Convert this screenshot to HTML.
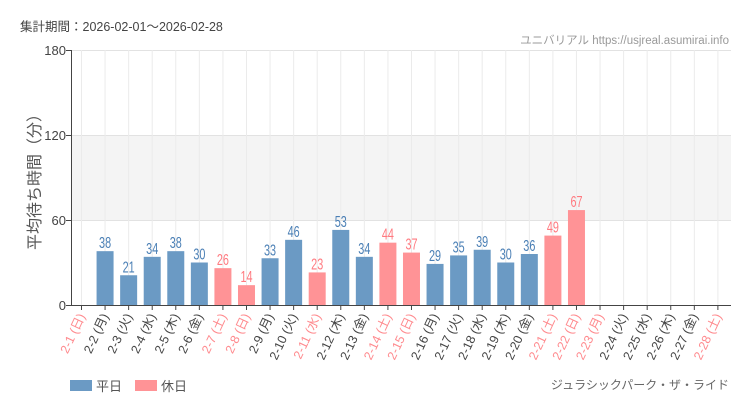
<!DOCTYPE html><html><head><meta charset="utf-8"><style>body{margin:0;background:#fff}svg{display:block;font-family:"Liberation Sans","Noto Sans CJK JP",sans-serif}</style></head><body>
<svg width="750" height="410" xmlns="http://www.w3.org/2000/svg" id="s">
<rect width="750" height="410" fill="#fff"/>
<text x="20" y="31" font-size="12.5" fill="#444">集計期間：2026-02-01～2026-02-28</text>
<text x="729" y="44" font-size="11.5" fill="#999" text-anchor="end">ユニバリアル  https://usjreal.asumirai.info</text>
<rect x="71" y="135" width="660" height="85" fill="#f4f4f4"/>
<g stroke="#e2e2e2" stroke-width="1">
<line x1="71" y1="50.5" x2="731" y2="50.5"/><line x1="71" y1="135.5" x2="731" y2="135.5"/><line x1="71" y1="220.5" x2="731" y2="220.5"/>
</g>
<g id="v"></g>
<g id="b"></g>
<line x1="71.5" y1="50" x2="71.5" y2="305" stroke="#444"/>
<line x1="71" y1="305.5" x2="731" y2="305.5" stroke="#444"/>
<g font-size="13" fill="#444" text-anchor="end">
<text x="66" y="55">180</text><text x="66" y="140">120</text><text x="66" y="225">60</text><text x="66" y="310">0</text></g>
<g stroke="#444"><line x1="66" y1="50.5" x2="71" y2="50.5"/><line x1="66" y1="135.5" x2="71" y2="135.5"/><line x1="66" y1="220.5" x2="71" y2="220.5"/><line x1="66" y1="305.5" x2="71" y2="305.5"/></g>
<text transform="translate(40,178) rotate(-90)" font-size="16" fill="#555" text-anchor="middle">平均待ち時間（分）</text>
<rect x="70" y="380" width="22" height="11" fill="#6b9ac4"/><text x="96" y="391" font-size="13" fill="#555">平日</text>
<rect x="135" y="380" width="22" height="11" fill="#ff9396"/><text x="161" y="391" font-size="13" fill="#555">休日</text>
<text x="729" y="389" font-size="12" fill="#666" text-anchor="end">ジュラシックパーク・ザ・ライド</text>
</svg>
<script>
var d=[null,38,21,34,38,30,26,14,33,46,23,53,34,44,37,29,35,39,30,36,49,67,null,null,null,null,null,null];
var w=["日","月","火","水","木","金","土"];
var hol=[0,6,7,10,13,14,20,21,22,27];
var s=document.getElementById('s'),v=document.getElementById('v'),b=document.getElementById('b'),h='',g='';
for(var i=0;i<28;i++){var x=81.5+i*23.57,H=hol.indexOf(i)>=0;
g+='<line x1="'+x+'" y1="50" x2="'+x+'" y2="305" stroke="#ebebeb"/>';
h+='<line x1="'+x+'" y1="305" x2="'+x+'" y2="310" stroke="#444"/>';
var c=H?'#ff8a8e':'#444';
h+='<text transform="translate('+(x+4)+',316) rotate(-65)" font-size="12.5" fill="'+c+'" text-anchor="end">2-'+(i+1)+' ('+w[i%7]+')</text>';
if(d[i]!=null){var y=305-d[i]*255/180;var col=H?'#ff9396':'#6b9ac4';
h+='<rect x="'+(x-8.5)+'" y="'+y+'" width="17" height="'+(305-y)+'" fill="'+col+'"/>';
h+='<text font-size="15.5" fill="'+(H?'#ff7a80':'#4a7fb5')+'" text-anchor="middle" transform="translate('+x+','+(y-3)+') scale(0.7,1)">'+d[i]+'</text>';}}
v.innerHTML=g;b.innerHTML=h;
</script>
</body></html>
